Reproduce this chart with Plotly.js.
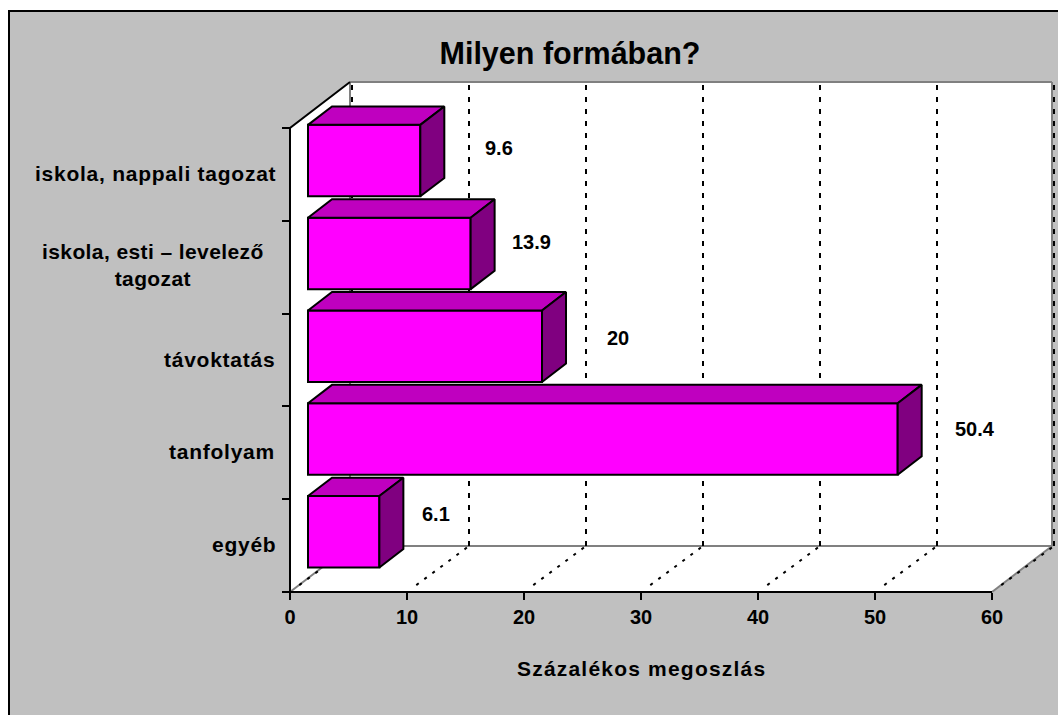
<!DOCTYPE html>
<html>
<head>
<meta charset="utf-8">
<script src="https://cdn.plot.ly/plotly-3.0.1.min.js"></script>
<style>html,body{margin:0;padding:0;background:#fff}</style>
</head>
<body>
<div id="chart" style="width:1058px;height:715px"></div>
<script>
// ---- data (bottom to top) ----
var categories = ["egyéb", "tanfolyam", "távoktatás", "iskola, esti – levelező<br>tagozat", "iskola, nappali tagozat"];
var values = [6.1, 50.4, 20, 13.9, 9.6];
var valueLabels = ["6.1", "50.4", "20", "13.9", "9.6"];
var xTicks = [0, 10, 20, 30, 40, 50, 60];
var titleText = "Milyen formában?";
var xTitleText = "Százalékos megoszlás";

// ---- label nudges in px ----
var labelDx = [75, 95, 94, 79, 97];
var labelDy = [32, 24, 22, 25, 26];
var catLabelRight = [278, 277, 277, 266, 278];
var catLabelDy = [1, 1, 1, 2, 1];
var catLabelSpacing = [0.75, 0.75, 0.75, 0.4, 0.75];

// ---- pseudo-3D projection ----
var pxX = 11.7, pxY = 92.8;
var L = 272, R = 3, T = 77, B = 113, W = 1058, H = 715;
var x0px = 290, y0px = 592;
var depthX = 60 / pxX, depthY = 46 / pxY, gridDepthX = 62 / pxX;
var nCat = categories.length, xMax = 60;
var barW = 0.77, front = 0.3, back = 0.7;
var xRange = [-(x0px - L) / pxX, (W - R - x0px) / pxX];
var yRange = [-(H - B - y0px) / pxY, (y0px - T) / pxY];
var plotW = W - L - R, plotH = H - T - B;

function project(x, y, d) { return [x + d * depthX, y + d * depthY]; }
function gridPt(x, y, d) { return [x + d * gridDepthX, y + d * depthY]; }
function spaced(text, px) {
  return text.split("<br>").map(function (s) {
    return '<span style="letter-spacing:' + px + 'px">' + s + "</span>";
  }).join("<br>");
}

var topX = [], topY = [], sideX = [], sideY = [], frontY = [];
values.forEach(function (v, i) {
  var c = i + 0.5;
  var loY = c - barW / 2, hiY = c + barW / 2;
  frontY.push(c + front * depthY);
  var pts = [[0, hiY, front], [v, hiY, front], [v, hiY, back], [0, hiY, back], [0, hiY, front]];
  pts.forEach(function (p) { var q = project(p[0], p[1], p[2]); topX.push(q[0]); topY.push(q[1]); });
  topX.push(null); topY.push(null);
  var spts = [[v, hiY, front], [v, hiY, back], [v, loY, back], [v, loY, front], [v, hiY, front]];
  spts.forEach(function (p) { var q = project(p[0], p[1], p[2]); sideX.push(q[0]); sideY.push(q[1]); });
  sideX.push(null); sideY.push(null);
});

var shapes = [];
shapes.push({type: "rect", xref: "paper", yref: "paper", layer: "below",
  x0: (9 - L) / plotW, x1: 1.1, y0: -0.5, y1: (H - B - 11) / plotH,
  fillcolor: "#c0c0c0", line: {color: "#000", width: 2}});
var bk = project(0, 0, 1), bt = project(0, nCat, 1), br = project(xMax, 0, 1), tr = project(xMax, nCat, 1);
function path(a) { return "M" + a.map(function (p) { return p[0] + "," + p[1]; }).join("L"); }
shapes.push({type: "path", xref: "x", yref: "y", layer: "below",
  path: path([[0, 0], [0, nCat], bt, tr, br, [xMax, 0]]) + "Z", fillcolor: "#fff", line: {width: 0}});
var grey = {color: "#808080", width: 2};
[[bk, bt], [bt, tr], [tr, br], [br, bk], [[0, 0], bk], [[xMax, 0], br]].forEach(function (s) {
  shapes.push({type: "path", xref: "x", yref: "y", layer: "below", path: path(s), line: grey});
});
xTicks.forEach(function (t) {
  var a = gridPt(t, 0, 0.15), b = gridPt(t, 0, 1), c = gridPt(t, nCat, 1);
  shapes.push({type: "path", xref: "x", yref: "y", layer: "below", path: path([a, b]),
    line: {color: "#000", width: 2, dash: "3px,7px"}});
  shapes.push({type: "path", xref: "x", yref: "y", layer: "below", path: path([b, c]),
    line: {color: "#000", width: 2, dash: "5px,7px"}});
});

var annotations = [];
categories.forEach(function (c, i) {
  annotations.push({xref: "paper", yref: "y", x: (catLabelRight[i] - L) / plotW, y: i + 0.5,
    xanchor: "right", yanchor: "middle", align: "center", showarrow: false, text: spaced(c, catLabelSpacing[i]),
    yshift: catLabelDy[i],
    font: {family: "Liberation Sans", size: 21, color: "#000", weight: 700}});
  annotations.push({xref: "x", yref: "y", x: values[i], y: i + 0.5, xanchor: "center", yanchor: "middle",
    xshift: labelDx[i], yshift: labelDy[i], showarrow: false, text: valueLabels[i],
    font: {family: "Liberation Sans", size: 20, color: "#000", weight: 700}});
});
annotations.push({xref: "x", yref: "paper", x: 30, y: (H - B - 668) / plotH, xanchor: "center", yanchor: "middle",
  showarrow: false, text: spaced(xTitleText, 1.2), font: {family: "Liberation Sans", size: 21, color: "#000", weight: 700}});

var traces = [
  {type: "bar", orientation: "h", y: frontY, x: values, base: front * depthX, width: barW,
   marker: {color: "#ff00ff", line: {color: "#000", width: 2}}, cliponaxis: false, hoverinfo: "x"},
  {type: "scatter", mode: "lines", x: topX, y: topY, fill: "toself", fillcolor: "#bf00bf",
   line: {color: "#000", width: 2}, cliponaxis: false, hoverinfo: "skip"},
  {type: "scatter", mode: "lines", x: sideX, y: sideY, fill: "toself", fillcolor: "#800080",
   line: {color: "#000", width: 2}, cliponaxis: false, hoverinfo: "skip"},
  {type: "scatter", mode: "lines", x: [xMax, 0, 0, bt[0]], y: [0, 0, nCat, bt[1]],
   line: {color: "#000", width: 2}, cliponaxis: false, hoverinfo: "skip"}
];

var layout = {
  width: W, height: H, showlegend: false,
  margin: {l: L, r: R, t: T, b: B, pad: 0},
  paper_bgcolor: "#fff", plot_bgcolor: "rgba(0,0,0,0)",
  title: {text: titleText, x: 570 / W, y: 1 - 53 / H, xanchor: "center", yanchor: "middle",
    font: {family: "Liberation Sans", size: 30.5, color: "#000", weight: 700}},
  xaxis: {range: xRange, tickmode: "array", tickvals: xTicks, ticktext: xTicks.map(String),
    anchor: "free", position: (H - B - y0px) / plotH, showgrid: false, zeroline: false, showline: false,
    ticks: "outside", ticklen: 7, tickwidth: 1.5, tickcolor: "#000",
    tickfont: {family: "Liberation Sans", size: 20, color: "#000", weight: 700}},
  yaxis: {range: yRange, tickmode: "array", tickvals: [0, 1, 2, 3, 4, 5], showticklabels: false,
    anchor: "free", position: (x0px - L) / plotW, showgrid: false, zeroline: false, showline: false,
    ticks: "outside", ticklen: 8, tickwidth: 2, tickcolor: "#000"},
  shapes: shapes, annotations: annotations
};
Plotly.newPlot("chart", traces, layout, {displayModeBar: false, staticPlot: true});
</script>
</body>
</html>
